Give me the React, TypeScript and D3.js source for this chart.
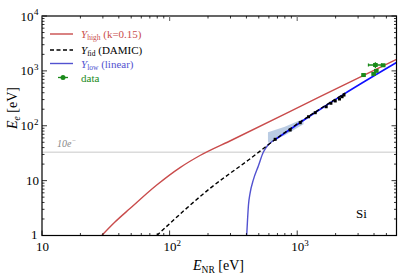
import React from 'react';
import * as d3 from 'd3';

// Y_high (k=0.15)
const highE = [29.4, 37.3, 48.9, 79.3, 120.7, 173, 308, 1510, 6000];
const highY = [1, 1.76, 3.1, 8.32, 17.3, 28.7, 55, 338, 1626];

// Y_fid (DAMIC)
const fidE = [79.4, 207.8, 415, 693, 2378];
const fidY = [1, 7.25, 23.8, 59.1, 395];

// Y_low (linear)
const lowE = [402, 408, 415, 427, 453, 496, 542, 590, 682];
const lowY = [1, 1.92, 3.6, 5.87, 10.3, 18.5, 32.8, 44.6, 57.3];
const linE = [682, 1514, 2307, 6000];
const linY = [57.3, 200, 374, 1422];

// uncertainty band
const bandE = [590, 800, 1120];
const bandHi = [76, 96, 134];
const bandLo = [49, 67, 106];

// DAMIC points
const damicE = [672, 881, 1056, 1227, 1384, 1687, 1837, 1986, 2144, 2247, 2326];
const damicY = [56.6, 83.7, 113.7, 146, 173, 222, 257, 283, 307, 338, 363];

// green data
const dataE = [3310, 3970, 4170, 4100, 4720];
const dataY = [840, 880, 1000, 1280, 1265];
const dataXErr = [0, 0, 0, 480, 0];
const dataYErr = [0, 0, 0, 150, 0];

const threshold = 33;

const xMajor = [10, 100, 1000];
const yMajor = [1, 10, 100, 1000, 10000];

const W = 399;
const H = 274;
const L = 42;
const R = 396.5;
const T = 16;
const B = 235.5;

const font = '"Liberation Serif", "DejaVu Serif", serif';

export default function App() {
  const x = d3.scaleLog().domain([10, 6000]).range([L, R]);
  const y = d3.scaleLog().domain([1, 10000]).range([B, T]);

  const mk = (es: number[], ys: number[]) => es.map((e, i) => [x(e), y(ys[i])] as [number, number]);
  const line = d3.line().curve(d3.curveMonotoneX);

  const band = d3
    .area<number>()
    .x((_, i) => x(bandE[i]))
    .y0((_, i) => y(bandLo[i]))
    .y1((_, i) => y(bandHi[i]));

  const xMinor: number[] = [];
  [10, 100, 1000].forEach(d => {
    for (let k = 2; k <= 9; k++) if (d * k <= 6000) xMinor.push(d * k);
  });
  const yMinor: number[] = [];
  [1, 10, 100, 1000].forEach(d => {
    for (let k = 2; k <= 9; k++) yMinor.push(d * k);
  });

  const sup = (v: number) => (v <= 10 ? '' : String(Math.round(Math.log10(v))));

  return (
    <svg width={W} height={H} style={{ position: 'absolute', left: 0, top: 0, background: '#fff' }} fontFamily={font}>
      <defs>
        <clipPath id="plot">
          <rect x={L} y={T} width={R - L} height={B - T} />
        </clipPath>
      </defs>

      <g clipPath="url(#plot)">
        <line x1={L} x2={R} y1={y(threshold)} y2={y(threshold)} stroke="#c8c8c8" strokeWidth={1} />
        <path d={band(bandE.map((_, i) => i)) || ''} fill="#a9bfdc" opacity={0.8} />
        <path d={line(mk(highE, highY)) || ''} fill="none" stroke="#c94c4c" strokeWidth={1.4} />
        <path d={line(mk(lowE, lowY)) || ''} fill="none" stroke="#5252d0" strokeWidth={1.4} />
        <path d={line(mk(linE, linY)) || ''} fill="none" stroke="#1010ff" strokeWidth={1.6} />
        <path d={line(mk(fidE, fidY)) || ''} fill="none" stroke="#000" strokeWidth={1.4} strokeDasharray="4,2.5" />
        {damicE.map((e, i) => (
          <rect key={'d' + i} x={x(e) - 1.5} y={y(damicY[i]) - 1.5} width={3} height={3} fill="#000" />
        ))}
        {dataE.map((e, i) => (
          <g key={'g' + i} stroke="#1a8a1a" strokeWidth={1.3}>
            {dataXErr[i] > 0 && (
              <>
                <line x1={x(e - dataXErr[i])} x2={x(e + dataXErr[i])} y1={y(dataY[i])} y2={y(dataY[i])} />
                <line x1={x(e - dataXErr[i])} x2={x(e - dataXErr[i])} y1={y(dataY[i]) - 1.5} y2={y(dataY[i]) + 1.5} />
                <line x1={x(e + dataXErr[i])} x2={x(e + dataXErr[i])} y1={y(dataY[i]) - 1.5} y2={y(dataY[i]) + 1.5} />
              </>
            )}
            {dataYErr[i] > 0 && (
              <line x1={x(e)} x2={x(e)} y1={y(dataY[i] - dataYErr[i])} y2={y(dataY[i] + dataYErr[i])} />
            )}
            <rect x={x(e) - 2.3} y={y(dataY[i]) - 2} width={4.6} height={4} fill="#1a8a1a" stroke="none" />
          </g>
        ))}
      </g>

      {/* frame */}
      <rect x={L} y={T} width={R - L} height={B - T} fill="none" stroke="#000" strokeWidth={1.2} />

      {/* ticks */}
      <g stroke="#000" strokeWidth={0.8}>
        {xMajor.map(v => (
          <g key={'xm' + v}>
            <line x1={x(v)} x2={x(v)} y1={B} y2={B - 5} />
            <line x1={x(v)} x2={x(v)} y1={T} y2={T + 5} stroke="#777" strokeWidth={1.2} />
          </g>
        ))}
        {xMinor.map(v => (
          <g key={'xn' + v}>
            <line x1={x(v)} x2={x(v)} y1={B} y2={B - 2.5} />
            <line x1={x(v)} x2={x(v)} y1={T} y2={T + 2.5} />
          </g>
        ))}
        {yMajor.map(v => (
          <g key={'ym' + v}>
            <line x1={L} x2={L + 5} y1={y(v)} y2={y(v)} />
            <line x1={R} x2={R - 5} y1={y(v)} y2={y(v)} />
          </g>
        ))}
        {yMinor.map(v => (
          <g key={'yn' + v}>
            <line x1={L} x2={L + 2.5} y1={y(v)} y2={y(v)} />
            <line x1={R} x2={R - 2.5} y1={y(v)} y2={y(v)} />
          </g>
        ))}
      </g>

      {/* tick labels */}
      <g fontSize={13} fill="#000">
        {xMajor.map(v => (
          <text key={'xl' + v} x={x(v) - 6} y={251}>
            10
            {sup(v) && (
              <tspan dy={-5} fontSize={9}>
                {sup(v)}
              </tspan>
            )}
          </text>
        ))}
        {yMajor.map(v => (
          <text key={'yl' + v} x={sup(v) ? 33.5 : v === 1 ? 37.5 : 39} y={y(v) + (v === 1 ? 3 : 4.5)} textAnchor="end">
            {v === 1 ? '1' : '10'}
          </text>
        ))}
        {yMajor.filter(v => sup(v)).map(v => (
          <text key={'ys' + v} x={34} y={y(v) - 1} fontSize={9}>
            {sup(v)}
          </text>
        ))}
      </g>

      {/* axis labels */}
      <text x={193} y={270} fontSize={14}>
        <tspan fontStyle="italic">E</tspan>
        <tspan fontSize={9.5} dy={3}>NR</tspan>
        <tspan dy={-3}> [eV]</tspan>
      </text>
      <text transform="translate(17,108) rotate(-90)" textAnchor="middle" fontSize={14}>
        <tspan fontStyle="italic">E</tspan>
        <tspan fontSize={9.5} dy={3} fontStyle="italic">e</tspan>
        <tspan dy={-3}> [eV]</tspan>
      </text>

      {/* annotations */}
      <text x={57} y={147} fontSize={10} fontStyle="italic" fill="#888">
        10e<tspan dy={-4} fontSize={7}>−</tspan>
      </text>
      <text x={356} y={218} fontSize={13}>Si</text>

      {/* legend */}
      <g fontSize={11}>
        <line x1={50} x2={73} y1={34} y2={34} stroke="#c94c4c" strokeWidth={1.4} />
        <text x={81} y={38} fill="#c94c4c">
          <tspan fontStyle="italic">Y</tspan>
          <tspan fontSize={7.5} dy={2}>high</tspan>
          <tspan dy={-2}> (k=0.15)</tspan>
        </text>
        <line x1={50} x2={73} y1={50} y2={50} stroke="#000" strokeWidth={1.4} strokeDasharray="4,2.5" />
        <text x={81} y={54} fill="#000">
          <tspan fontStyle="italic">Y</tspan>
          <tspan fontSize={7.5} dy={2}>fid</tspan>
          <tspan dy={-2}> (DAMIC)</tspan>
        </text>
        <line x1={50} x2={73} y1={63.5} y2={63.5} stroke="#5252d0" strokeWidth={1.4} />
        <text x={81} y={67.5} fill="#5252d0">
          <tspan fontStyle="italic">Y</tspan>
          <tspan fontSize={7.5} dy={2}>low</tspan>
          <tspan dy={-2}> (linear)</tspan>
        </text>
        <line x1={58} x2={68} y1={77.5} y2={77.5} stroke="#1a8a1a" strokeWidth={1.3} />
        <circle cx={63} cy={77.5} r={2.5} fill="#1a8a1a" />
        <text x={81} y={81.5} fill="#1a8a1a">data</text>
      </g>
    </svg>
  );
}
